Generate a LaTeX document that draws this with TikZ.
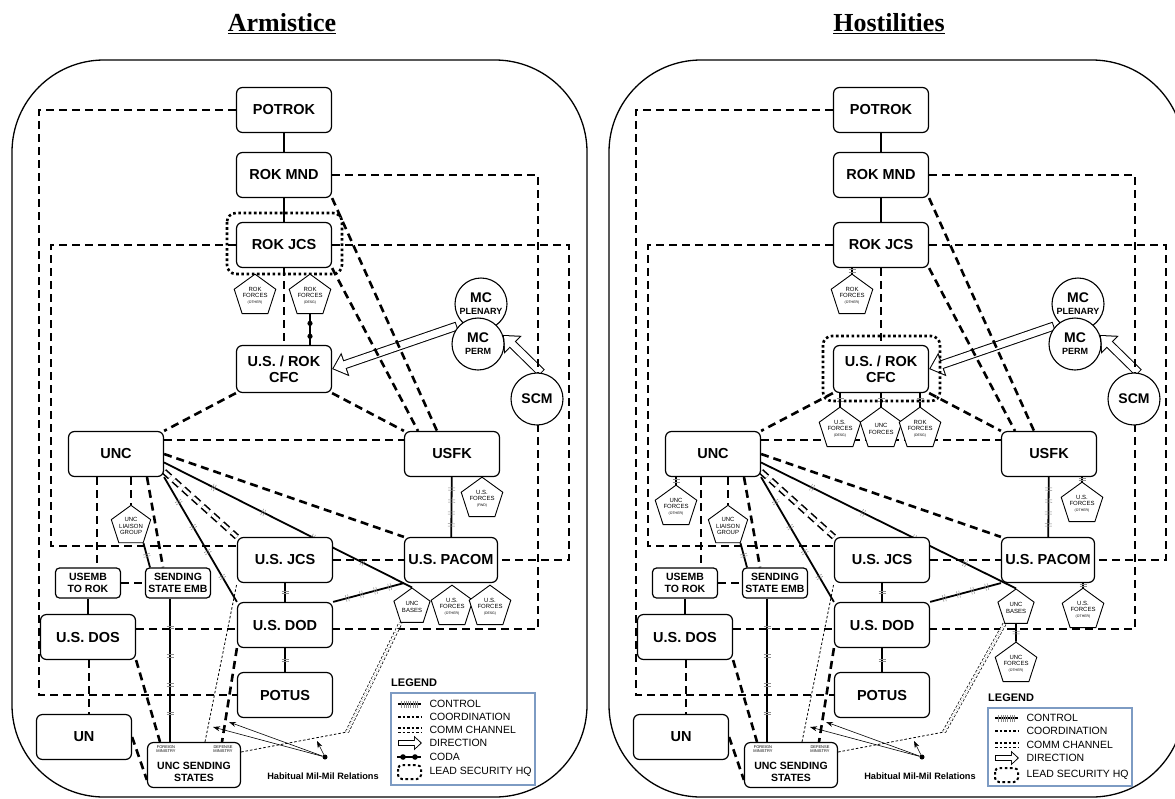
\documentclass[tikz,border=0pt]{standalone}
\usepackage{fontspec}
\setmainfont{Liberation Sans}
\newfontfamily\titlefont{Liberation Serif}
\usetikzlibrary{arrows.meta, shapes.geometric, decorations.markings}

\pgfdeclarelayer{bg}
\pgfsetlayers{bg,main}

\definecolor{legendblue}{RGB}{125,155,195}
\definecolor{tickgray}{RGB}{140,140,140}

\tikzset{
  box/.style={draw, fill=white, rounded corners=6pt, line width=1.2pt, minimum width=95pt, minimum height=45pt, align=center, font=\fontsize{14.5}{16}\selectfont\bfseries},
  smallbox/.style={box, minimum width=65pt, minimum height=30pt, inner sep=1pt, rounded corners=4pt, font=\fontsize{10.5}{11.5}\selectfont\bfseries},
  pent/.style={regular polygon, regular polygon sides=5, draw, fill=white, line width=0.9pt, minimum size=38pt, inner sep=0pt, align=center, font=\fontsize{6}{6.2}\selectfont},
  circ/.style={circle, draw, fill=white, line width=1.1pt, minimum size=52pt, inner sep=0pt, align=center, font=\fontsize{14}{12}\selectfont\bfseries},
  tinytext/.style={font=\fontsize{4}{4.4}\selectfont, align=center, inner sep=0pt},
  title/.style={font=\titlefont\bfseries\fontsize{26}{30}\selectfont},
  frame/.style={line width=1.3pt, rounded corners=92pt},
  legframe/.style={draw=legendblue, line width=1.2pt},
  plain/.style={line width=1.8pt},
  control/.style={line width=1.8pt, postaction={decorate, decoration={markings,
      mark=between positions 0.2 and 0.85 step 0.2 with {\draw[line width=0.5pt, tickgray] (-1.2pt,-3.5pt) -- (-1.2pt,3.5pt) (1.2pt,-3.5pt) -- (1.2pt,3.5pt);}}}},
  stub/.style={line width=1.8pt, postaction={decorate, decoration={markings,
      mark=at position 0.5 with {\draw[line width=0.5pt, tickgray] (-1.2pt,-3.5pt) -- (-1.2pt,3.5pt) (1.2pt,-3.5pt) -- (1.2pt,3.5pt);}}}},
  coda/.style={line width=2pt, postaction={decorate, decoration={markings,
      mark=at position 0.3 with {\fill (0,0) circle (2.6pt);},
      mark=at position 0.72 with {\fill (0,0) circle (2.6pt);}}}},
  coord/.style={line width=2.6pt, dash pattern=on 8pt off 5pt},
  comm/.style={double, double distance=3pt, line width=1.6pt, dash pattern=on 8pt off 5pt},
  dots/.style={line width=0.8pt, dash pattern=on 2.5pt off 2pt},
  commdot/.style={double, double distance=2.5pt, line width=0.7pt, dash pattern=on 2.5pt off 2pt},
  dirout/.style={line width=9pt, -{Triangle[length=14pt, width=24pt]}},
  dirin/.style={white, line width=7pt, shorten <=1pt, shorten >=1.55pt, -{Triangle[length=11.4pt, width=19.6pt]}},
  habit/.style={line width=0.6pt, -{Stealth[length=7pt, width=5pt]}},
  leadhq/.style={line width=2.6pt, dash pattern=on 2.6pt off 2.6pt, rounded corners=9pt},
  legtext/.style={anchor=west, font=\fontsize{10.5}{12}\selectfont},
}

% boxes found in both panels
\newcommand{\panelnodes}{%
  \draw[frame] (12,60) rectangle (587,797);
  \node[box] (POTROK) at (284,110) {POTROK};
  \node[box] (ROKMND) at (284,175) {ROK MND};
  \node[box] (ROKJCS) at (284,245) {ROK JCS};
  \node[box, minimum height=47pt] (CFC) at (284,369) {U.S. / ROK\\CFC};
  \node[box] (UNC) at (116,454) {UNC};
  \node[box] (USFK) at (452,454) {USFK};
  \node[box] (USJCS) at (285,560) {U.S. JCS};
  \node[box, minimum width=93pt] (PACOM) at (451,560) {U.S. PACOM};
  \node[box] (USDOD) at (285,625) {U.S. DOD};
  \node[box] (POTUS) at (285,695) {POTUS};
  \node[smallbox] (USEMB) at (88,583) {USEMB\\TO ROK};
  \node[smallbox] (SSEMB) at (178,583) {SENDING\\STATE EMB};
  \node[box] (USDOS) at (88,637) {U.S. DOS};
  \node[box] (UN) at (84,737) {UN};
  \node[box, minimum width=93pt, font=\fontsize{10.5}{12}\selectfont\bfseries] (UNCSS) at (194,765) {\strut\\UNC SENDING\\STATES};
  \node[tinytext] (FORMIN) at (166,749) {FOREIGN\\MINISTRY};
  \node[tinytext] (DEFMIN) at (223,749) {DEFENSE\\MINISTRY};
  \node[pent] (LIAISON) at (131,526) {UNC\\LIAISON\\GROUP};
  \node[circ] (MCPLEN) at (481,304) {MC\\{\fontsize{9}{9}\selectfont PLENARY}};
  \node[circ] (MCPERM) at (478,344) {MC\\{\fontsize{9}{9}\selectfont PERM}};
  \node[circ] (SCM) at (537,399) {SCM};
  \node[circle, fill, inner sep=0pt, minimum size=5pt] (MILDOT) at (325,757) {};
  \node[font=\fontsize{9.2}{11}\selectfont\bfseries] (HABIT) at (323,776) {Habitual Mil-Mil Relations};
  \coordinate (MCLEFT) at (457,326);
  \coordinate (BEND) at (347,732);
  \coordinate (HARA) at (213,727);
  \coordinate (HARB) at (229,722);
  \coordinate (HARC) at (317,741);
}

% links found in both panels
\newcommand{\panellinks}{%
  \draw[dirout] (MCLEFT) -- (CFC.east);
  \draw[dirin] (MCLEFT) -- (CFC.east);
  \draw[dirout] (SCM.80) -- (MCPERM.20);
  \draw[dirin] (SCM.80) -- (MCPERM.20);
  \draw[plain] (POTROK) -- (ROKMND);
  \draw[plain] (ROKMND) -- (ROKJCS);
  \draw[plain] (USEMB) -- (USDOS);
  \draw[control] (USFK) -- (PACOM);
  \draw[control] (UNC.-10) -- (UNCBASES.corner 1);
  \draw[control] (UNC.south east) -- (USDOD.north west);
  \draw[control] (USDOD.north east) -- (PACOM.south west);
  \draw[stub] (USJCS) -- (USDOD);
  \draw[stub] (USDOD) -- (POTUS);
  \draw[stub] (LIAISON.corner 4) -- (SSEMB.north -| 150,0);
  \draw[control] (SSEMB.south -| 170,0) -- (UNCSS.north -| 170,0);
  \draw[coord] (POTROK.west) -| (39,695) -- (POTUS.west);
  \draw[coord] (ROKJCS.west) -| (51,546) -- (USJCS.west |- 0,546);
  \draw[coord] (ROKJCS.east) -| (569,560) -- (PACOM.east);
  \draw[coord] (ROKMND.east) -| (538,629) -- (USDOD.east |- 0,629);
  \draw[coord] (ROKJCS.south) -- (CFC.north);
  \draw[coord] (ROKMND.south east) -- (USFK.north -| 437,0);
  \draw[coord] (ROKJCS.south east) -- (USFK.north -| 418,0);
  \draw[coord] (CFC.south east) -- (USFK.north west);
  \draw[coord] (CFC.south west) -- (UNC.north east);
  \draw[coord] (UNC.east |- 0,440) -- (USFK.west |- 0,440);
  \draw[coord] (UNC.east) -- (PACOM.north west);
  \draw[coord] (USJCS) -- (PACOM);
  \draw[coord] (UNC.south -| EMBX) -- (USEMB.north -| EMBX);
  \draw[coord] (UNC.south -| LIAISON) -- (LIAISON.corner 1);
  \draw[coord] (UNC.south -| 147,0) -- (SSEMB.north -| 163,0);
  \draw[coord] (USEMB) -- (SSEMB);
  \draw[coord] (USDOS.east |- 0,629) -- (USDOD.west |- 0,629);
  \draw[coord] (USDOS.south -| 89,0) -- (UN.north -| 89,0);
  \draw[coord] (USDOS.south east) -- (UNCSS.north -| 160,0);
  \draw[coord] (UN.east) -- (UNCSS.west |- 0,780);
  \draw[coord] (USDOD.south west) -- (UNCSS.north -| 222,0);
  \draw[comm] (UNC.-20) -- (USJCS.north west);
  \draw[dots] (UNCSS.north -| 205,0) -- (USJCS.south west);
  \draw[dots] (UNCSS.east |- 0,752) -- (BEND);
  \draw[commdot] (BEND) -- (UNCBASES.corner 3);
  \draw[habit] (MILDOT) -- (HARA);
  \draw[habit] (MILDOT) -- (HARB);
  \draw[habit] (MILDOT) -- (HARC);
}

\begin{document}
\begin{tikzpicture}[x=1pt, y=-1pt]
\useasboundingbox (0,0) rectangle (1175,798);

\node[title] (ARMTITLE) at (282,24) {\underline{Armistice}};
\node[title] (HOSTITLE) at (889,24) {\underline{Hostilities}};

% armistice
\begin{scope}[name prefix=A-]
  \panelnodes
  \draw[leadhq] (227,213) rectangle (342,274);
  \node[pent] (ROKFO) at (255,296) {ROK\\FORCES\\{\fontsize{3.5}{4}\selectfont(OTHER)}};
  \node[pent] (ROKFD) at (310,296) {ROK\\FORCES\\{\fontsize{3.5}{4}\selectfont(DESG)}};
  \node[pent] (USFFWD) at (482,499) {U.S.\\FORCES\\{\fontsize{3.5}{4}\selectfont(FWD)}};
  \node[pent] (UNCBASES) at (412,607) {UNC\\BASES};
  \node[pent] (USFO) at (452,607) {U.S.\\FORCES\\{\fontsize{3.5}{4}\selectfont(OTHER)}};
  \node[pent] (USFD) at (490,607) {U.S.\\FORCES\\{\fontsize{3.5}{4}\selectfont(DESG)}};
  \coordinate (EMBX) at (97,0);
  \begin{pgfonlayer}{bg}
    \panellinks
    \draw[coda] (ROKFD.south) -- (CFC.north -| ROKFD.south);
  \end{pgfonlayer}
  \node[font=\fontsize{11}{12}\selectfont\bfseries, anchor=west, inner sep=0pt] (LEGEND) at (391,683) {LEGEND};
  \draw[legframe] (391,693) rectangle (535,785);
  \draw[control] (398,704) -- (421,704);
  \node[legtext] (LCTRL) at (426,704) {CONTROL};
  \draw[dots, line width=1.3pt] (398,717) -- (421,717);
  \node[legtext] (LCOORD) at (426,717) {COORDINATION};
  \draw[dots, line width=1.3pt] (398,728) -- (421,728) (398,732.5) -- (421,732.5);
  \node[legtext] (LCOMM) at (426,730) {COMM CHANNEL};
  \draw[line width=6pt, -{Triangle[length=8pt, width=14pt]}] (398,743) -- (422,743);
  \draw[white, line width=4pt, shorten <=1pt, shorten >=1.6pt, -{Triangle[length=5.6pt, width=10.4pt]}] (398,743) -- (422,743);
  \node[legtext] (LDIR) at (426,743) {DIRECTION};
  \draw[line width=2.2pt] (397,757) -- (421,757);
  \fill (403,757) circle (2.8pt) (415,757) circle (2.8pt);
  \node[legtext] (LCODA) at (426,757) {CODA};
  \draw[leadhq, line width=2pt, rounded corners=4pt] (398,765) rectangle (421,779);
  \node[legtext] (LHQ) at (426,772) {LEAD SECURITY HQ};
\end{scope}

% hostilities
\begin{scope}[xshift=597pt, name prefix=H-]
  \panelnodes
  \draw[leadhq] (226,336) rectangle (343,401);
  \node[pent] (ROKFO) at (255,296) {ROK\\FORCES\\{\fontsize{3.5}{4}\selectfont(OTHER)}};
  \node[pent] (USFD) at (243,429) {U.S.\\FORCES\\{\fontsize{3.5}{4}\selectfont(DESG)}};
  \node[pent] (UNCF) at (284,429) {UNC\\FORCES};
  \node[pent] (ROKFD) at (323,429) {ROK\\FORCES\\{\fontsize{3.5}{4}\selectfont(DESG)}};
  \node[pent] (UNCFO) at (79,507) {UNC\\FORCES\\{\fontsize{3.5}{4}\selectfont(OTHER)}};
  \node[pent] (USFO) at (485,504) {U.S.\\FORCES\\{\fontsize{3.5}{4}\selectfont(OTHER)}};
  \node[pent] (USFOB) at (486,610) {U.S.\\FORCES\\{\fontsize{3.5}{4}\selectfont(OTHER)}};
  \node[pent] (UNCBASES) at (419,608) {UNC\\BASES};
  \node[pent] (UNCFOB) at (419,664) {UNC\\FORCES\\{\fontsize{3.5}{4}\selectfont(OTHER)}};
  \coordinate (EMBX) at (104,0);
  \begin{pgfonlayer}{bg}
    \panellinks
    \draw[stub] (ROKJCS.south -| ROKFO) -- (ROKFO.corner 1);
    \draw[stub] (CFC.south -| USFD) -- (USFD.corner 1);
    \draw[stub] (CFC.south -| UNCF) -- (UNCF.corner 1);
    \draw[stub] (CFC.south -| ROKFD) -- (ROKFD.corner 1);
    \draw[stub] (UNC.south -| UNCFO) -- (UNCFO.corner 1);
    \draw[stub] (USFK.south -| USFO) -- (USFO.corner 1);
    \draw[stub] (PACOM.south -| USFOB) -- (USFOB.corner 1);
    \draw[stub] (UNCBASES) -- (UNCFOB);
  \end{pgfonlayer}
  \node[font=\fontsize{11}{12}\selectfont\bfseries, anchor=west, inner sep=0pt] (LEGEND) at (391,698) {LEGEND};
  \draw[legframe] (391,708) rectangle (535,786);
  \draw[control] (398,718) -- (421,718);
  \node[legtext] (LCTRL) at (426,718) {CONTROL};
  \draw[dots, line width=1.3pt] (398,731) -- (421,731);
  \node[legtext] (LCOORD) at (426,731) {COORDINATION};
  \draw[dots, line width=1.3pt] (398,743) -- (421,743) (398,747.5) -- (421,747.5);
  \node[legtext] (LCOMM) at (426,745) {COMM CHANNEL};
  \draw[line width=6pt, -{Triangle[length=8pt, width=14pt]}] (398,758) -- (422,758);
  \draw[white, line width=4pt, shorten <=1pt, shorten >=1.6pt, -{Triangle[length=5.6pt, width=10.4pt]}] (398,758) -- (422,758);
  \node[legtext] (LDIR) at (426,758) {DIRECTION};
  \draw[leadhq, line width=2pt, rounded corners=4pt] (398,768) rectangle (421,782);
  \node[legtext] (LHQ) at (426,775) {LEAD SECURITY HQ};
\end{scope}
\end{tikzpicture}
\end{document}
